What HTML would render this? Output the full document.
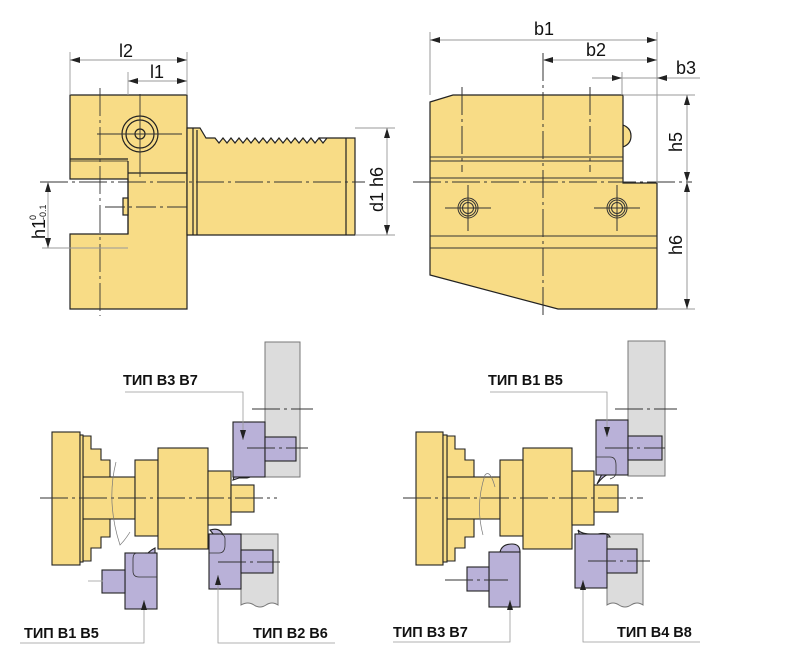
<!DOCTYPE html>
<html><head><meta charset="utf-8"><style>
html,body{margin:0;padding:0;background:#fff;}
svg{display:block;}
text{font-family:"Liberation Sans",Arial,sans-serif;fill:#111;}
.lb{font-weight:bold;font-size:14.5px;}
</style></head><body>
<svg width="790" height="661" viewBox="0 0 790 661" xmlns="http://www.w3.org/2000/svg">
<defs>
<marker id="a" viewBox="0 0 10 6" refX="10" refY="3" markerWidth="10" markerHeight="6" orient="auto-start-reverse" markerUnits="userSpaceOnUse"><path d="M0,0 L10,3 L0,6 Z" fill="#222"/></marker>
</defs>
<g stroke="#222" stroke-width="1.2" fill="#f8dc86">
<path d="M70,95 H187 V309 H70 V234 H128 V179 H70 Z"/>
<line x1="70" y1="159" x2="128" y2="159"/>
<line x1="70" y1="161" x2="128" y2="161" stroke-width="0.8"/>
<line x1="128" y1="161" x2="128" y2="234"/>
<rect x="123" y="198" width="5" height="17"/>
<path d="M187,128 H200 L206,138 H215 l4,5 4,-5 4,5 4,-5 4,5 4,-5 4,5 4,-5 4,5 4,-5 4,5 4,-5 4,5 4,-5 4,5 4,-5 4,5 4,-5 4,5 4,-5 4,5 4,-5 4,5 4,-5 4,5 4,-5 4,5 4,-5 L319,138 H355 V235 H187 Z"/>
<line x1="193" y1="128" x2="193" y2="235"/>
<line x1="197" y1="130" x2="197" y2="235"/>
<line x1="346" y1="138" x2="346" y2="235"/>
<line x1="128" y1="173" x2="187" y2="173"/>
<circle cx="140" cy="134" r="18"/>
<circle cx="140" cy="134" r="14"/>
<circle cx="140" cy="134" r="5"/>
</g>
<g stroke="#333" stroke-width="0.9" fill="none">
<line x1="40" y1="182" x2="365" y2="182" stroke-dasharray="28,4,3,4"/>
<line x1="100" y1="88" x2="100" y2="316" stroke-dasharray="28,4,3,4"/>
<line x1="140" y1="94" x2="140" y2="177"/>
<line x1="97" y1="134" x2="182" y2="134"/>
<line x1="105" y1="207" x2="190" y2="207" stroke-dasharray="20,4,3,4"/>
<line x1="128" y1="72" x2="128" y2="95" stroke="#999"/>
<line x1="70" y1="52" x2="70" y2="95" stroke="#999"/>
<line x1="187" y1="52" x2="187" y2="95" stroke="#999"/>
<line x1="70" y1="60" x2="187" y2="60" stroke="#999" marker-start="url(#a)" marker-end="url(#a)"/>
<line x1="128" y1="81" x2="187" y2="81" stroke="#999" marker-start="url(#a)" marker-end="url(#a)"/>
<line x1="42" y1="248" x2="128" y2="248" stroke="#999"/>
<line x1="48" y1="182" x2="48" y2="248" stroke="#999" marker-start="url(#a)" marker-end="url(#a)"/>
<line x1="355" y1="128" x2="395" y2="128" stroke="#999"/>
<line x1="355" y1="235" x2="395" y2="235" stroke="#999"/>
<line x1="387" y1="128" x2="387" y2="235" stroke="#999" marker-start="url(#a)" marker-end="url(#a)"/>
</g>
<text x="119" y="57" font-size="18">l2</text>
<text x="150" y="78" font-size="18">l1</text>
<g transform="translate(45,239) rotate(-90)"><text x="0" y="0" font-size="18">h1</text><text x="19" y="-9" font-size="9">0</text><text x="19" y="1" font-size="9">-0.1</text></g>
<text transform="translate(383,212) rotate(-90)" font-size="18">d1  h6</text>

<!-- RIGHT TOP VIEW -->
<g stroke="#222" stroke-width="1.2" fill="#f8dc86">
<path d="M623,125 q8,3 8,11 q0,8 -8,11 Z"/>
<path d="M430,102 L453,95 H623 V183 H657 V309 H558 L430,275 Z"/>
</g>
<g stroke="#333" stroke-width="1" fill="none">
<line x1="430" y1="157" x2="623" y2="157"/>
<line x1="430" y1="161" x2="623" y2="161"/>
<line x1="430" y1="178" x2="623" y2="178"/>
<line x1="430" y1="236" x2="657" y2="236"/>
<line x1="430" y1="248" x2="657" y2="248"/>
<line x1="413" y1="182" x2="692" y2="182" stroke-dasharray="28,4,3,4"/>
<line x1="543" y1="53" x2="543" y2="318" stroke-dasharray="28,4,3,4"/>
<line x1="462" y1="87" x2="462" y2="172" stroke-dasharray="28,4,3,4"/>
<line x1="590" y1="87" x2="590" y2="172" stroke-dasharray="28,4,3,4"/>
<g fill="#f8dc86"><circle cx="468" cy="208" r="10"/><circle cx="468" cy="208" r="8"/><circle cx="468" cy="208" r="5.5"/><circle cx="617" cy="208" r="10"/><circle cx="617" cy="208" r="8"/><circle cx="617" cy="208" r="5.5"/></g>
<line x1="445" y1="208" x2="491" y2="208"/><line x1="468" y1="185" x2="468" y2="231"/>
<line x1="594" y1="208" x2="640" y2="208"/><line x1="617" y1="185" x2="617" y2="231"/>
<g stroke="#999">
<line x1="430" y1="32" x2="430" y2="95"/>
<line x1="657" y1="32" x2="657" y2="183"/>
<line x1="622" y1="72" x2="622" y2="95"/>
<line x1="430" y1="40" x2="657" y2="40" marker-start="url(#a)" marker-end="url(#a)"/>
<line x1="543" y1="60" x2="657" y2="60" marker-start="url(#a)" marker-end="url(#a)"/>
<line x1="592" y1="78" x2="622" y2="78" marker-end="url(#a)"/>
<line x1="700" y1="78" x2="657" y2="78" marker-end="url(#a)"/>
<line x1="622" y1="78" x2="657" y2="78"/>
<line x1="623" y1="95" x2="695" y2="95"/>
<line x1="657" y1="309" x2="695" y2="309"/>
<line x1="687" y1="95" x2="687" y2="182" marker-start="url(#a)" marker-end="url(#a)"/>
<line x1="687" y1="182" x2="687" y2="309" marker-start="url(#a)" marker-end="url(#a)"/>
</g>
</g>
<text x="534" y="35" font-size="18">b1</text>
<text x="586" y="56" font-size="18">b2</text>
<text x="676" y="74" font-size="18">b3</text>
<text transform="translate(682,152) rotate(-90)" font-size="18">h5</text>
<text transform="translate(682,255) rotate(-90)" font-size="18">h6</text>

<!-- BOTTOM LEFT -->
<g stroke="#777" stroke-width="1" fill="#dcdcdc">
<rect x="265" y="342" width="35" height="135"/>
<path d="M241,534 H278 V605 q-6,-4 -12,0 q-6,4 -12,0 q-6,-4 -13,0 Z"/>
</g>
<g stroke="#222" stroke-width="1.1" fill="#f8dc86">
<path d="M83,436 H91 V449 H101 V460 H110 V478 H83 Z"/>
<path d="M83,561 H91 V548 H101 V537 H110 V519 H83 Z"/>
<rect x="83" y="477" width="52" height="42"/>
<rect x="52" y="432" width="28" height="133"/>
<rect x="80" y="435" width="3" height="127"/>
<rect x="135" y="460" width="23" height="76"/>
<rect x="158" y="448" width="50" height="101"/>
<rect x="208" y="471" width="23" height="54"/>
<rect x="231" y="485" width="23" height="27"/>
</g>
<g stroke="#222" stroke-width="1.1" fill="#b9b1d8">
<path d="M233,480 q2,-8 8,-8 h12 q2,4 -6,6 h-8 z"/>
<rect x="233" y="422" width="32" height="55"/>
<rect x="265" y="437" width="31" height="24"/>
<path d="M210,530 q10,-3 13,5 l-5,5 z"/>
<rect x="209" y="534" width="32" height="55"/>
<rect x="241" y="550" width="32" height="23"/>
<path d="M155,548 q-8,4 -10,10 l10,0 z"/>
<rect x="125" y="553" width="32" height="56"/>
<rect x="102" y="570" width="23" height="23"/>
</g>
<g stroke="#333" stroke-width="0.9" fill="none">
<path d="M145,553 h-8 q-4,0 -4,6 v12 q0,6 6,6 h18" stroke-width="0.8"/>
<path d="M209,553 h10 q6,0 6,-8 v-6 q0,-5 -6,-5" stroke-width="0.8"/>
<line x1="40" y1="498" x2="277" y2="498" stroke-dasharray="28,4,3,4"/>
<line x1="252" y1="409" x2="313" y2="409" stroke-dasharray="28,4,3,4"/>
<line x1="247" y1="448" x2="308" y2="448" stroke-dasharray="28,4,3,4"/>
<line x1="218" y1="562" x2="280" y2="562" stroke-dasharray="28,4,3,4"/>
<line x1="88" y1="581" x2="103" y2="581" stroke="#aaa"/>
<path d="M116,462 q-10,40 4,83 q5,-5 10,-13" stroke="#777" stroke-width="0.7"/>
<g stroke="#999" stroke-width="0.8">
<polyline points="125,392 243,392 243,440" marker-end="url(#a)"/>
<polyline points="20,643 144,643 144,600" marker-end="url(#a)"/>
<polyline points="335,643 218,643 218,575" marker-end="url(#a)"/>
</g>
</g>
<text class="lb" x="123" y="385">ТИП В3 В7</text>
<text class="lb" x="24" y="638">ТИП В1 В5</text>
<text class="lb" x="253" y="638">ТИП В2 В6</text>

<!-- BOTTOM RIGHT -->
<g stroke="#777" stroke-width="1" fill="#dcdcdc">
<rect x="628" y="341" width="37" height="135"/>
<path d="M607,534 H643 V605 q-6,-4 -12,0 q-6,4 -12,0 q-6,-4 -12,0 Z"/>
</g>
<g stroke="#222" stroke-width="1.1" fill="#f8dc86">
<path d="M447,436 H455 V449 H465 V460 H474 V478 H447 Z"/>
<path d="M447,561 H455 V548 H465 V537 H474 V519 H447 Z"/>
<rect x="447" y="477" width="53" height="42"/>
<rect x="416" y="432" width="27" height="133"/>
<rect x="443" y="435" width="4" height="127"/>
<rect x="500" y="460" width="23" height="76"/>
<rect x="523" y="448" width="49" height="101"/>
<rect x="572" y="471" width="22" height="54"/>
<rect x="594" y="485" width="24" height="27"/>
</g>
<g stroke="#222" stroke-width="1.1" fill="#b9b1d8">
<path d="M597,484 q6,-8 12,-10 l-4,-6 z"/>
<rect x="596" y="420" width="32" height="55"/>
<rect x="628" y="436" width="34" height="24"/>
<path d="M578,530 q4,5 20,4 q10,-2 12,3 h-30 z"/>
<rect x="575" y="534" width="32" height="54"/>
<rect x="607" y="549" width="30" height="24"/>
<path d="M500,552 q2,-8 12,-8 q8,0 8,8 z"/>
<rect x="489" y="552" width="31" height="55"/>
<rect x="467" y="567" width="22" height="24"/>
</g>
<g stroke="#333" stroke-width="0.9" fill="none">
<path d="M596,457 h14 q6,0 6,8 v8 q0,4 -6,6" stroke-width="0.8"/>
<line x1="403" y1="498" x2="643" y2="498" stroke-dasharray="28,4,3,4"/>
<line x1="615" y1="409" x2="677" y2="409" stroke-dasharray="28,4,3,4"/>
<line x1="605" y1="448" x2="665" y2="448" stroke-dasharray="28,4,3,4"/>
<line x1="588" y1="561" x2="650" y2="561" stroke-dasharray="28,4,3,4"/>
<line x1="445" y1="580" x2="508" y2="580" stroke-dasharray="28,4,3,4"/>
<path d="M483,535 q-8,-30 2,-60 q5,-6 10,12" stroke="#777" stroke-width="0.7"/>
<g stroke="#999" stroke-width="0.8">
<polyline points="490,392 607,392 607,437" marker-end="url(#a)"/>
<polyline points="393,642 510,642 510,600" marker-end="url(#a)"/>
<polyline points="700,642 583,642 583,580" marker-end="url(#a)"/>
</g>
</g>
<text class="lb" x="488" y="385">ТИП В1 В5</text>
<text class="lb" x="393" y="637">ТИП В3 В7</text>
<text class="lb" x="617" y="637">ТИП В4 В8</text>
</svg>
</body></html>
